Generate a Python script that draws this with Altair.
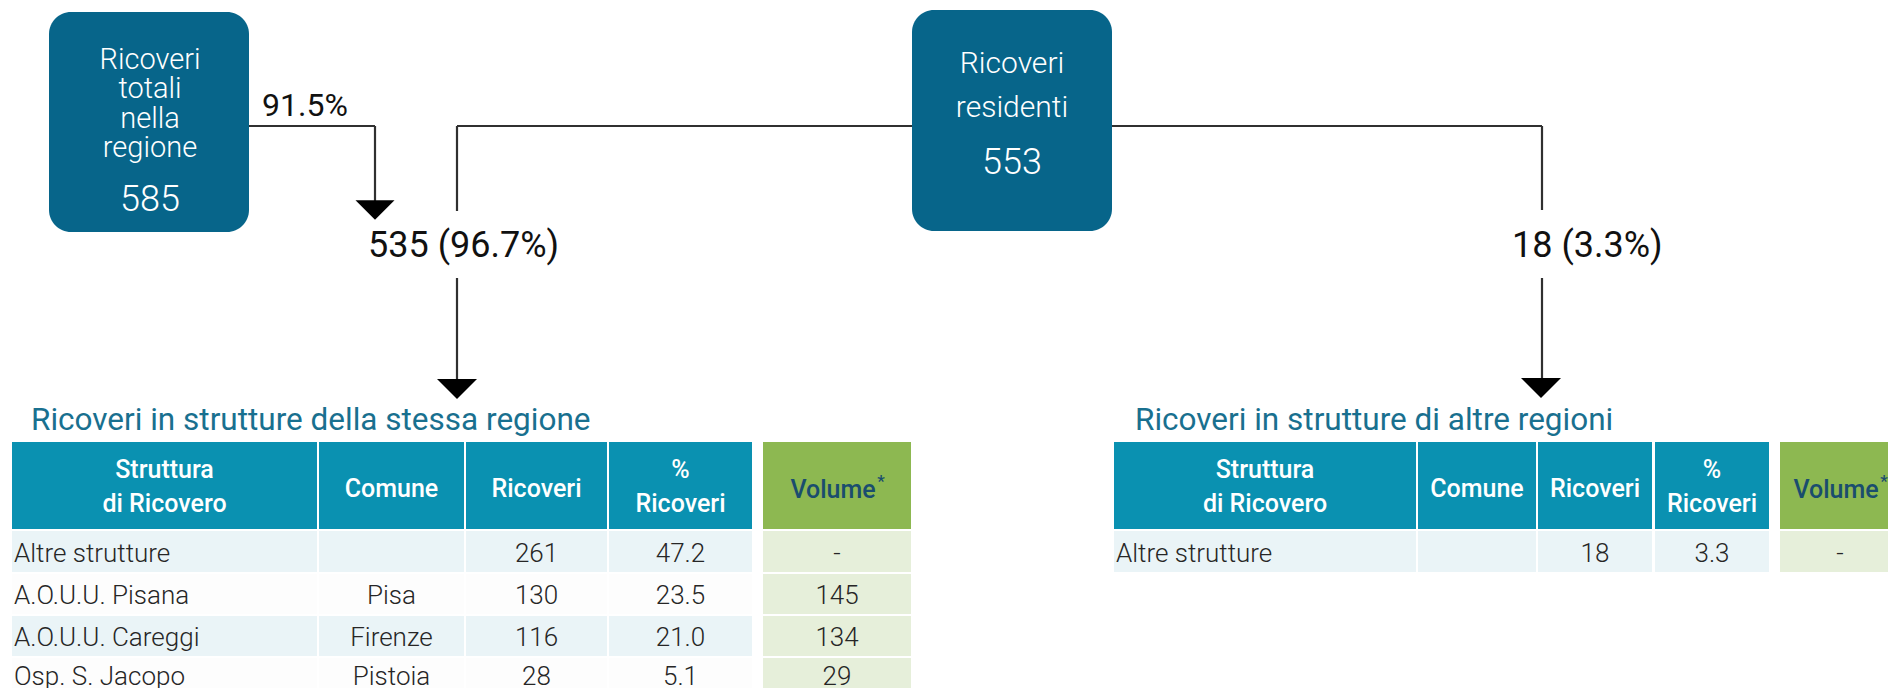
import altair as alt
import pandas as pd

# ---------------- data ----------------
box1_lines = ["Ricoveri", "totali", "nella", "regione"]
box1_value = 585
box2_lines = ["Ricoveri", "residenti"]
box2_value = 553
perc_attrazione = "91.5%"
stessa_n, stessa_p = 535, "96.7%"
altre_n, altre_p = 18, "3.3%"

title1 = "Ricoveri in strutture della stessa regione"
title2 = "Ricoveri in strutture di altre regioni"
header_labels = [["Struttura", "di Ricovero"], ["Comune"], ["Ricoveri"], ["%", "Ricoveri"]]
volume_label = "Volume"

strutture1 = ["Altre strutture", "A.O.U.U. Pisana", "A.O.U.U. Careggi", "Osp. S. Jacopo"]
comuni1 = ["", "Pisa", "Firenze", "Pistoia"]
ricoveri1 = [261, 130, 116, 28]
perc1 = ["47.2", "23.5", "21.0", "5.1"]
volume1 = ["-", "145", "134", "29"]

strutture2 = ["Altre strutture"]
comuni2 = [""]
ricoveri2 = [18]
perc2 = ["3.3"]
volume2 = ["-"]

# ---------------- layout / style ----------------
W, H = 1880, 680
FONT = "Roboto"
BOX = "#07658a"
HEAD = "#0a91b1"
GREEN = "#8db851"
LBLUE = "#eaf4f7"
LGREEN = "#e6efda"
TITLE_C = "#19708f"
VOL_C = "#1a4d6e"
TXT = "#262626"
LINE = "#303030"

XS = alt.Scale(domain=[8, 8 + W], nice=False, zero=False)
YS = alt.Scale(domain=[8 + H, 8], nice=False, zero=False)


def xy(df):
    return dict(x=alt.X("x:Q", scale=XS, axis=None), y=alt.Y("y:Q", scale=YS, axis=None))


layers = []

# connector lines
segs = pd.DataFrame([
    dict(x=249, y=126, x2=375, y2=126),
    dict(x=375, y=126, x2=375, y2=203),
    dict(x=457, y=126, x2=1542, y2=126),
    dict(x=457, y=126, x2=457, y2=211),
    dict(x=457, y=278, x2=457, y2=383),
    dict(x=1542, y=126, x2=1542, y2=210),
    dict(x=1542, y=278, x2=1542, y2=381),
])
layers.append(alt.Chart(segs).mark_rule(color=LINE, strokeWidth=2.2).encode(
    **xy(segs), x2="x2:Q", y2="y2:Q"))

# boxes
boxes = pd.DataFrame([
    dict(x=49, x2=249, y=12, y2=232, c=BOX),
    dict(x=912, x2=1112, y=10, y2=231, c=BOX),
])
layers.append(alt.Chart(boxes).mark_rect(cornerRadius=22).encode(
    **xy(boxes), x2="x2:Q", y2="y2:Q", color=alt.Color("c:N", scale=None)))

# table cells
t1_cols = [(12, 317), (319, 464), (466, 607), (609, 752)]
t1_vol = (763, 911)
t2_cols = [(1114, 1416), (1418, 1536), (1538, 1652), (1655, 1769)]
t2_vol = (1780, 1900)
head_y = (442, 529)
rows_y = [(531, 572), (574, 614), (616, 656), (658, 696)]

cells = []
for cols, vol, nrows in [(t1_cols, t1_vol, len(strutture1)), (t2_cols, t2_vol, len(strutture2))]:
    for (a, b) in cols:
        cells.append(dict(x=a, x2=b, y=head_y[0], y2=head_y[1], c=HEAD))
    cells.append(dict(x=vol[0], x2=vol[1], y=head_y[0], y2=head_y[1], c=GREEN))
    for r in range(nrows):
        ya, yb = rows_y[r]
        bg = LBLUE if r % 2 == 0 else "#fdfdfd"
        for (a, b) in cols:
            cells.append(dict(x=a, x2=b, y=ya, y2=yb, c=bg))
        cells.append(dict(x=vol[0], x2=vol[1], y=ya, y2=yb, c=LGREEN))
cells = pd.DataFrame(cells)
layers.append(alt.Chart(cells).mark_rect().encode(
    **xy(cells), x2="x2:Q", y2="y2:Q", color=alt.Color("c:N", scale=None)))


def text_layer(rows, align, weight, baseline="alphabetic"):
    df = pd.DataFrame(rows)
    return alt.Chart(df).mark_text(align=align, baseline=baseline, font=FONT, fontWeight=weight).encode(
        **xy(df), text="t:N", size=alt.Size("fs:Q", scale=None), color=alt.Color("c:N", scale=None))


# box texts
bt = []
for i, s in enumerate(box1_lines):
    bt.append(dict(x=150, y=[69, 98, 128, 157][i], t=s, fs=29, c="white"))
bt.append(dict(x=150, y=211, t=str(box1_value), fs=36, c="white"))
for i, s in enumerate(box2_lines):
    bt.append(dict(x=1012, y=[73, 117][i], t=s, fs=30, c="white"))
bt.append(dict(x=1012, y=174, t=str(box2_value), fs=36, c="white"))
layers.append(text_layer(bt, "center", 300))

# flow labels
fl = [
    dict(x=262, y=116, t=perc_attrazione, fs=32, c="#111"),
    dict(x=368, y=257, t=f"{stessa_n} ({stessa_p})", fs=36, c="#111"),
    dict(x=1512, y=257, t=f"{altre_n} ({altre_p})", fs=36, c="#111"),
]
layers.append(text_layer(fl, "left", 400))

# table titles
tt = [dict(x=31, y=430, t=title1, fs=31.5, c=TITLE_C),
      dict(x=1135, y=430, t=title2, fs=31.5, c=TITLE_C)]
layers.append(text_layer(tt, "left", 400))

# headers
ht, vt = [], []
for cols, vol in [(t1_cols, t1_vol), (t2_cols, t2_vol)]:
    for (a, b), lab in zip(cols, header_labels):
        cx = (a + b) / 2
        ys = [497] if len(lab) == 1 else [478, 512]
        for s, yy in zip(lab, ys):
            ht.append(dict(x=cx, y=yy, t=s, fs=25, c="white"))
    vc = (vol[0] + vol[1]) / 2 - 4
    vt.append(dict(x=vc, y=498, t=volume_label, fs=25, c=VOL_C))
    vt.append(dict(x=vc + 48, y=487, t="*", fs=17, c=VOL_C))
layers.append(text_layer(ht, "center", 500))
layers.append(text_layer(vt, "center", 500))

# body
bl, bc = [], []
for cols, vol, S, C, R, P, V in [
    (t1_cols, t1_vol, strutture1, comuni1, ricoveri1, perc1, volume1),
    (t2_cols, t2_vol, strutture2, comuni2, ricoveri2, perc2, volume2),
]:
    for r in range(len(S)):
        ya, yb = rows_y[r]
        yy = min((ya + yb) / 2 + 10, 685)
        bl.append(dict(x=cols[0][0] + 2, y=yy, t=S[r], fs=26, c=TXT))
        for (a, b), val in zip(cols[1:], [C[r], str(R[r]), P[r]]):
            bc.append(dict(x=(a + b) / 2, y=yy, t=val, fs=26, c=TXT))
        bc.append(dict(x=(vol[0] + vol[1]) / 2, y=yy, t=V[r], fs=26, c=TXT))
layers.append(text_layer(bl, "left", 300))
layers.append(text_layer(bc, "center", 300))

# arrow heads
tri = pd.DataFrame([
    dict(x=375, y=210, s=39 * 39),
    dict(x=457, y=389, s=40 * 40),
    dict(x=1541, y=388, s=40 * 40),
])
layers.append(alt.Chart(tri).mark_point(shape="M-1,-0.5L1,-0.5L0,0.5Z", filled=True, opacity=1,
                                        color="black", strokeWidth=0).encode(
    **xy(tri), size=alt.Size("s:Q", scale=None)))

chart = alt.layer(*layers).properties(
    width=W, height=H, padding=0, autosize=alt.AutoSizeParams(type="none")
).configure_view(stroke=None)

chart.save("out.html", embed_options={"renderer": "svg", "actions": False})
